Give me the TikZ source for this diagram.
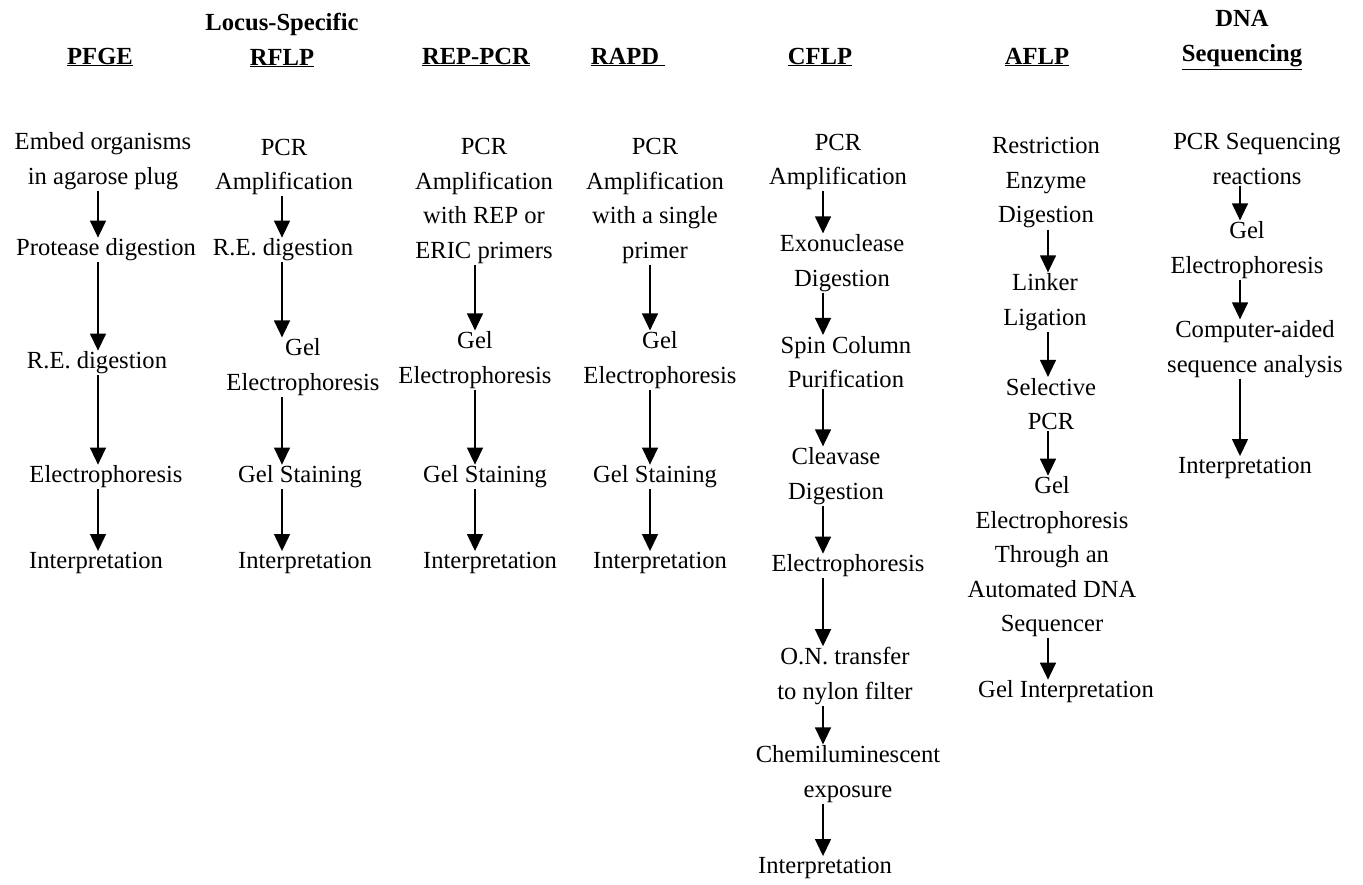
\documentclass[tikz,border=0pt]{standalone}
\usepackage{fontspec}
\setmainfont{Liberation Serif}
\usetikzlibrary{arrows.meta}
\tikzset{
	stage/.style={align=center, inner sep=1pt, font=\fontsize{24.6}{34.5}\selectfont},
	head/.style={stage, font=\fontsize{24.6}{35}\selectfont\bfseries},
	arr/.style={line width=1.3pt, -{Triangle[length=17pt, width=16pt]}}
}
\begin{document}
\begin{tikzpicture}[x=1pt,y=-1pt]
	\useasboundingbox (0,0) rectangle (1363,884);
	% headers
	\node (hPF) at (100,57)  [head] {\underline{PFGE}};
	\node (hRF) at (282,40)  [head] {Locus-Specific\\\underline{RFLP}};
	\node (hRE) at (476,57)  [head] {\underline{REP-PCR}};
	\node (hRA) at (628,57)  [head] {\underline{RAPD\ }};
	\node (hCF) at (820,57)  [head] {\underline{CFLP}};
	\node (hAF) at (1037,57) [head] {\underline{AFLP}};
	\node (hDN) at (1242,40) [head] {DNA\\\underline{Sequencing}};
	% arrow lines of the columns
	\coordinate (xPF) at (98,0);
	\coordinate (xRF) at (282,0);
	\coordinate (xRE) at (475,0);
	\coordinate (xRA) at (650,0);
	\coordinate (xCF) at (823,0);
	\coordinate (xAF) at (1048,0);
	\coordinate (xDN) at (1240,0);
	% PFGE
	\node (PF1) at (103,161) [stage] {Embed organisms\\in agarose plug};
	\node (PF2) at (106,250) [stage] {Protease digestion};
	\node (PF3) at (97,363)  [stage] {R.E. digestion};
	\node (PF4) at (106,477) [stage] {Electrophoresis};
	\node (PF5) at (96,563)  [stage] {Interpretation};
	\draw[arr] (PF1.south -| xPF) -- (PF2.north -| xPF);
	\draw[arr] (PF2.south -| xPF) -- (PF3.north -| xPF);
	\draw[arr] (PF3.south -| xPF) -- (PF4.north -| xPF);
	\draw[arr] (PF4.south -| xPF) -- (PF5.north -| xPF);
	% RFLP
	\node (RF1) at (284,167) [stage] {PCR\\Amplification};
	\node (RF2) at (283,250) [stage] {R.E. digestion};
	\node (RF3) at (303,367) [stage] {Gel\\Electrophoresis};
	\node (RF4) at (300,477) [stage] {Gel Staining};
	\node (RF5) at (305,563) [stage] {Interpretation};
	\draw[arr] (RF1.south -| xRF) -- (RF2.north -| xRF);
	\draw[arr] (RF2.south -| xRF) -- (RF3.north -| xRF);
	\draw[arr] (RF3.south -| xRF) -- (RF4.north -| xRF);
	\draw[arr] (RF4.south -| xRF) -- (RF5.north -| xRF);
	% REP-PCR
	\node (RE1) at (484,201) [stage] {PCR\\Amplification\\with REP or\\ERIC primers};
	\node (RE2) at (475,360) [stage] {Gel\\Electrophoresis};
	\node (RE3) at (485,477) [stage] {Gel Staining};
	\node (RE4) at (490,563) [stage] {Interpretation};
	\draw[arr] (RE1.south -| xRE) -- (RE2.north -| xRE);
	\draw[arr] (RE2.south -| xRE) -- (RE3.north -| xRE);
	\draw[arr] (RE3.south -| xRE) -- (RE4.north -| xRE);
	% RAPD
	\node (RA1) at (655,201) [stage] {PCR\\Amplification\\with a single\\primer};
	\node (RA2) at (660,360) [stage] {Gel\\Electrophoresis};
	\node (RA3) at (655,477) [stage] {Gel Staining};
	\node (RA4) at (660,563) [stage] {Interpretation};
	\draw[arr] (RA1.south -| xRA) -- (RA2.north -| xRA);
	\draw[arr] (RA2.south -| xRA) -- (RA3.north -| xRA);
	\draw[arr] (RA3.south -| xRA) -- (RA4.north -| xRA);
	% CFLP
	\node (CF1) at (838,162) [stage] {PCR\\Amplification};
	\node (CF2) at (842,263) [stage] {Exonuclease\\Digestion};
	\node (CF3) at (846,362) [stage] {Spin Column\\Purification};
	\node (CF4) at (836,476) [stage] {Cleavase\\Digestion};
	\node (CF5) at (848,566) [stage] {Electrophoresis};
	\node (CF6) at (845,676) [stage] {O.N. transfer\\to nylon filter};
	\node (CF7) at (848,774) [stage] {Chemiluminescent\\exposure};
	\node (CF8) at (825,868) [stage] {Interpretation};
	\draw[arr] (CF1.south -| xCF) -- (CF2.north -| xCF);
	\draw[arr] (CF2.south -| xCF) -- (CF3.north -| xCF);
	\draw[arr] (CF3.south -| xCF) -- (CF4.north -| xCF);
	\draw[arr] (CF4.south -| xCF) -- (CF5.north -| xCF);
	\draw[arr] (CF5.south -| xCF) -- (CF6.north -| xCF);
	\draw[arr] (CF6.south -| xCF) -- (CF7.north -| xCF);
	\draw[arr] (CF7.south -| xCF) -- (CF8.north -| xCF);
	% AFLP
	\node (AF1) at (1046,183) [stage] {Restriction\\Enzyme\\Digestion};
	\node (AF2) at (1045,302) [stage] {Linker\\Ligation};
	\node (AF3) at (1051,404) [stage] {Selective\\PCR};
	\node (AF4) at (1052,557) [stage] {Gel\\Electrophoresis\\Through an\\Automated DNA\\Sequencer};
	\node (AF5) at (1066,692) [stage] {Gel Interpretation};
	\draw[arr] (AF1.south -| xAF) -- (AF2.north -| xAF);
	\draw[arr] (AF2.south -| xAF) -- (AF3.north -| xAF);
	\draw[arr] (AF3.south -| xAF) -- (AF4.north -| xAF);
	\draw[arr] (AF4.south -| xAF) -- (AF5.north -| xAF);
	% DNA sequencing
	\node (DN1) at (1257,159) [stage] {PCR Sequencing\\reactions};
	\node (DN2) at (1247,250) [stage] {Gel\\Electrophoresis};
	\node (DN3) at (1255,349) [stage] {Computer-aided\\sequence analysis};
	\node (DN4) at (1245,468) [stage] {Interpretation};
	\draw[arr] (DN1.south -| xDN) -- (DN2.north -| xDN);
	\draw[arr] (DN2.south -| xDN) -- (DN3.north -| xDN);
	\draw[arr] (DN3.south -| xDN) -- (DN4.north -| xDN);
\end{tikzpicture}
\end{document}
